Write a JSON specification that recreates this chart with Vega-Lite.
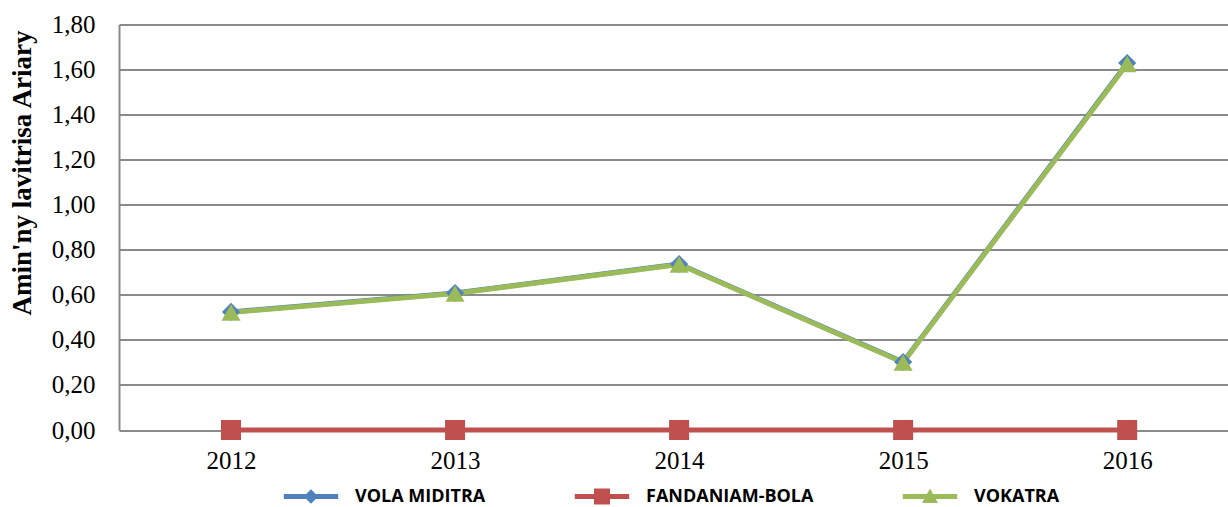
{
  "$schema": "https://vega.github.io/schema/vega-lite/v6.json",
  "width": 1109,
  "height": 405.5,
  "autosize": {"type": "none"},
  "padding": {"left": 119, "top": 24.5, "right": 0, "bottom": 77},
  "background": "white",
  "config": {"view": {"stroke": null}},
  "data": {
    "values": [
      {"year": 2012, "series": "VOLA MIDITRA", "value": 0.524},
      {"year": 2013, "series": "VOLA MIDITRA", "value": 0.608},
      {"year": 2014, "series": "VOLA MIDITRA", "value": 0.737},
      {"year": 2015, "series": "VOLA MIDITRA", "value": 0.302},
      {"year": 2016, "series": "VOLA MIDITRA", "value": 1.629},
      {"year": 2012, "series": "FANDANIAM-BOLA", "value": 0},
      {"year": 2013, "series": "FANDANIAM-BOLA", "value": 0},
      {"year": 2014, "series": "FANDANIAM-BOLA", "value": 0},
      {"year": 2015, "series": "FANDANIAM-BOLA", "value": 0},
      {"year": 2016, "series": "FANDANIAM-BOLA", "value": 0},
      {"year": 2012, "series": "VOKATRA", "value": 0.522},
      {"year": 2013, "series": "VOKATRA", "value": 0.606},
      {"year": 2014, "series": "VOKATRA", "value": 0.735},
      {"year": 2015, "series": "VOKATRA", "value": 0.300},
      {"year": 2016, "series": "VOKATRA", "value": 1.625}
    ]
  },
  "encoding": {
    "x": {
      "field": "year", "type": "quantitative",
      "scale": {"domain": [2011.5, 2016.45], "nice": false, "zero": false},
      "axis": {
        "values": [2012, 2013, 2014, 2015, 2016], "format": "d", "title": null,
        "grid": false, "ticks": false, "domain": false,
        "labelFont": "Liberation Serif", "labelFontSize": 25, "labelColor": "black",
        "labelPadding": 18
      }
    },
    "y": {
      "field": "value", "type": "quantitative",
      "scale": {"domain": [0, 1.8], "nice": false},
      "axis": {
        "values": [0, 0.2, 0.4, 0.6, 0.8, 1.0, 1.2, 1.4, 1.6, 1.8],
        "labelExpr": "replace(format(datum.value, '.2f'), '.', ',')",
        "title": "Amin'ny lavitrisa Ariary",
        "titleFont": "Liberation Serif", "titleFontSize": 27, "titleFontWeight": "bold", "titleColor": "black",
        "titlePadding": 15, "titleY": 148,
        "labelFont": "Liberation Serif", "labelFontSize": 25, "labelColor": "black",
        "labelPadding": 24, "ticks": false,
        "grid": true, "gridColor": "#8a8a8a", "gridWidth": 2,
        "domain": true, "domainColor": "#8a8a8a", "domainWidth": 2
      }
    },
    "color": {
      "field": "series", "type": "nominal",
      "scale": {
        "domain": ["VOLA MIDITRA", "FANDANIAM-BOLA", "VOKATRA"],
        "range": ["#4F81BD", "#C0504D", "#9BBB59"]
      },
      "legend": {
        "title": null, "orient": "none", "direction": "horizontal",
        "legendX": 183, "legendY": 463, "padding": 0,
        "symbolSize": 256, "symbolStrokeWidth": 0,
        "labelFont": "Open Sans", "labelFontSize": 18, "labelFontWeight": "bold", "labelColor": "black",
        "labelOffset": 35, "columnPadding": 88, "labelLimit": 400,
        "encode": {
          "symbols": {
            "update": {
              "shape": {"signal": "datum.value === 'VOLA MIDITRA' ? 'M-3.4,-0.3H3.4V0.3H-3.4Z M0,-0.9L0.9,0L0,0.9L-0.9,0Z' : datum.value === 'FANDANIAM-BOLA' ? 'M-3.4,-0.3H3.4V0.3H-3.4Z M-1,-1H1V1H-1Z' : 'M-3.4,-0.3H3.4V0.3H-3.4Z M0,-1L1,0.8H-1Z'"},
              "fill": {"signal": "scale('color', datum.value)"},
              "fillOpacity": {"value": 1},
              "strokeWidth": {"value": 0}
            }
          }
        }
      }
    }
  },
  "layer": [
    {
      "mark": {"type": "line", "strokeWidth": 5, "strokeCap": "round", "strokeJoin": "round"},
      "encoding": {"detail": {"field": "series"}}
    },
    {
      "mark": {"type": "point", "filled": true, "opacity": 1},
      "encoding": {
        "shape": {
          "field": "series", "type": "nominal",
          "scale": {"range": ["square", "triangle-up", "diamond"]},
          "legend": null
        },
        "size": {
          "field": "series", "type": "nominal",
          "scale": {"range": [400, 330, 400]},
          "legend": null
        }
      }
    }
  ]
}
